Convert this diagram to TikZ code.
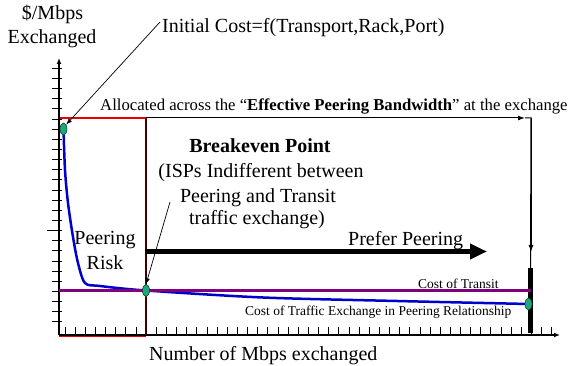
\documentclass[tikz,border=0pt]{standalone}
\usepackage{fontspec}
\setmainfont{Liberation Serif}
\usetikzlibrary{arrows.meta,shapes.geometric}
\definecolor{dotgreen}{RGB}{30,168,120}
\definecolor{dotedge}{RGB}{20,70,50}
\definecolor{curveblue}{RGB}{0,0,204}
\definecolor{transit}{RGB}{128,0,128}
\definecolor{darkline}{RGB}{64,0,0}
\definecolor{redline}{RGB}{230,0,0}
\tikzset{
  lbl/.style={inner sep=0pt, anchor=base west, font=\fontsize{20}{24}\selectfont},
  clbl/.style={inner sep=0pt, anchor=base, font=\fontsize{20}{24}\selectfont},
  smalllbl/.style={inner sep=0pt, anchor=base west, font=\fontsize{13.5}{16}\selectfont},
  dot/.style={ellipse, draw=dotedge, fill=dotgreen, line width=0.6pt, minimum width=7pt, minimum height=12pt, inner sep=0pt},
  thinarrow/.style={line width=0.7pt, -{Latex[length=6pt,width=4.5pt]}},
  tickline/.style={line width=0.8pt},
  axisline/.style={line width=1.3pt, -{Latex[length=6pt,width=5pt]}},
}
\begin{document}
\begin{tikzpicture}[x=1pt,y=-1pt]
\useasboundingbox (0,0) rectangle (571,366);

% coordinates
\coordinate (origin) at (59,335);
\coordinate (ytop) at (59,58);
\coordinate (xend) at (560,335);
\coordinate (topleft) at (59,118);
\coordinate (breakeven top) at (146,118);
\coordinate (breakeven bottom) at (146,335);
\coordinate (corner) at (531,118);
\coordinate (hhead) at (525,118);
\coordinate (vhead) at (531,252);

% red lines
\draw[redline, line width=1.5pt] (59,336.5) -- (146,336.5);
\draw[redline, line width=1.5pt] (topleft) -- (breakeven top);

% ticks
\foreach \i in {0,...,25}{
  \pgfmathsetmacro{\yy}{68.3+10.14*\i}
  \draw[tickline] (52,\yy) -- (62,\yy);
}
\draw[tickline] (47,230.5) -- (62,230.5);
\foreach \i in {0,...,48}{
  \pgfmathsetmacro{\xx}{65+10.14*\i}
  \draw[tickline] (\xx,327) -- (\xx,335);
}

% axes
\draw[axisline] (origin) -- (ytop);
\draw[axisline] (origin) -- (xend);

% breakeven vertical
\draw[darkline, line width=1.5pt] (breakeven top) -- (breakeven bottom);

% effective bandwidth bar
\node (bar) [fill=black, inner sep=0pt, minimum width=5pt, minimum height=65pt] at (530.5,300.5) {};

% allocated connector
\draw[line width=1pt] (hhead) -- (corner) -- (bar.north);
\draw[line width=1pt, -{Latex[length=7pt,width=5pt]}] (breakeven top) -- (hhead);
\draw[line width=1pt, -{Latex[length=7pt,width=5pt]}] (corner) -- (vhead);

% cost curves
\draw[curveblue, line width=2.5pt, line join=round] plot[smooth, tension=0.5] coordinates
  {(63.5,129) (65,170) (68,203) (73,237) (78,263) (85,283) (100,286) (146,290.5) (263,297.5) (397,301) (528.5,304)};
\draw[transit, line width=2.5pt] (59,290.5) -- (531,290.5);

% dots
\node (d1) [dot] at (63.5,129) {};
\node (d2) [dot] at (146,290.5) {};
\node (d3) [dot] at (528.5,304) {};

% prefer peering arrow
\coordinate (pp0) at (145,251.5);
\coordinate (pp1) at (487,251.5);
\draw[line width=5pt, -{Triangle[length=17pt,width=15pt]}] (pp0) -- (pp1);

% labels
\node (ylab1) [clbl] at (52.5,19.5) {\$/Mbps};
\node (ylab2) [clbl] at (52,43.5) {Exchanged};
\node (initial) [lbl] at (162,33) {Initial Cost=f(Transport,Rack,Port)};
\node (alloc) [inner sep=0pt, anchor=base west, font=\fontsize{16.7}{20}\selectfont] at (100,111)
  {Allocated across the “\textbf{Effective Peering Bandwidth}” at the exchange};
\node (be1) [clbl] at (260,153) {\textbf{Breakeven Point}};
\node (be2) [clbl] at (261,177.7) {(ISPs Indifferent between};
\node (be3) [clbl] at (258,202.5) {Peering and Transit};
\node (be4) [clbl] at (257,225) {traffic exchange)};
\node (risk1) [clbl] at (105,245) {Peering};
\node (risk2) [clbl] at (105,269.3) {Risk};
\node (prefer) [lbl] at (348,246) {Prefer Peering};
\node (transitlbl) [smalllbl] at (418,288.3) {Cost of Transit};
\node (peerlbl) [smalllbl] at (245,316) {Cost of Traffic Exchange in Peering Relationship};
\node (xlab) [lbl] at (149,361) {Number of Mbps exchanged};

% pointer arrows
\coordinate (initptr) at (160,22);
\coordinate (beptr) at (170,202);
\draw[thinarrow] (initptr) -- (d1.north east);
\draw[thinarrow] (beptr) -- (d2.north);
\end{tikzpicture}
\end{document}
